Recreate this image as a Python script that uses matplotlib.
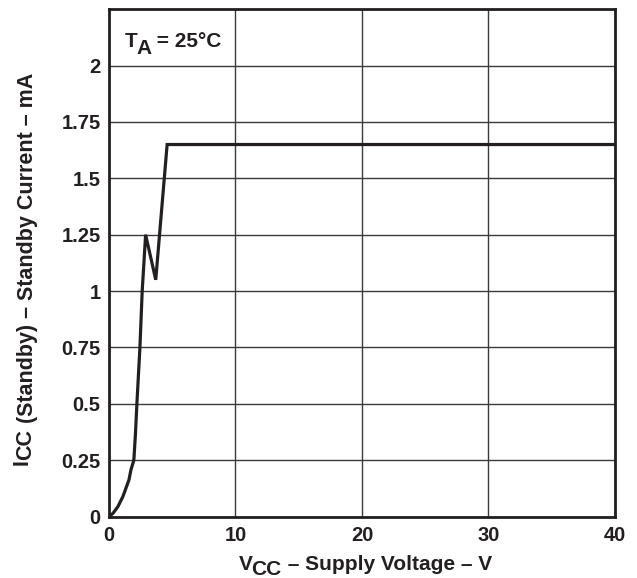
import matplotlib
matplotlib.use("Agg")
import matplotlib.pyplot as plt
from matplotlib.transforms import IdentityTransform

plt.rcParams['font.family'] = ['Liberation Sans', 'DejaVu Sans']

# Data
vcc = [0, 0.32, 0.71, 1.1, 1.58, 1.74, 1.97, 2.1, 2.21, 2.45, 2.63, 2.9, 3.7, 4.6, 40]
icc = [0, 0.014, 0.044, 0.088, 0.162, 0.207, 0.25, 0.37, 0.5, 0.75, 1.0, 1.25, 1.05, 1.65, 1.65]
xticks = [0, 10, 20, 30, 40]
yticks = [0, 0.25, 0.5, 0.75, 1, 1.25, 1.5, 1.75, 2]
ytick_labels = ['0', '0.25', '0.5', '0.75', '1', '1.25', '1.5', '1.75', '2']

INK = '#231f20'
TICK_FS = 14.5

fig = plt.figure(figsize=(6.37, 5.78), dpi=100)
ax = fig.add_axes([0.171, 0.1064, 0.7945, 0.8776])

ax.plot(vcc, icc, color=INK, lw=2.3, solid_joinstyle='miter', zorder=3)

ax.set_xlim(0, 40)
ax.set_ylim(0, 2.25)
ax.set_xticks(xticks)
ax.set_yticks(yticks)
ax.set_yticklabels(ytick_labels)
ax.set_yticks([2.25], minor=True)
ax.grid(True, which='both', color='#3a3a3a', lw=1.0)
ax.tick_params(which='both', length=0)
ax.tick_params(axis='y', pad=6, labelsize=TICK_FS)
ax.tick_params(axis='x', pad=7, labelsize=TICK_FS)
for lab in ax.get_xticklabels() + ax.get_yticklabels():
    lab.set_fontweight('bold')
    lab.set_color(INK)
for s in ax.spines.values():
    s.set_linewidth(2.0)
    s.set_color(INK)

renderer = fig.canvas.get_renderer()


def compose(parts, x, y, size, rotation=0, align='center'):
    """parts: list of (text, baseline shift in px (positive = down), kern px)."""
    items = []
    for s, drop, kern in parts:
        t = fig.text(0, 0, s, fontsize=size, fontweight='bold', color=INK,
                     ha='left', va='baseline', rotation=0,
                     transform=IdentityTransform())
        w = t.get_window_extent(renderer).width
        items.append((t, drop, kern, w))
    total = sum(w + k for _, _, k, w in items)
    pos = -total / 2 if align == 'center' else 0
    for t, drop, kern, w in items:
        pos += kern
        if rotation == 0:
            t.set_position((x + pos, y - drop))
        else:
            t.set_rotation(90)
            t.set_rotation_mode('anchor')
            t.set_position((x + drop, y + pos))
        pos += w


compose([('V', 0, 0), ('CC', 4.5, -1), (' – Supply Voltage – V', 0, 0)],
        365, 7.5, 15)
compose([('I', -5, 0), ('CC', -1, -1), (' (Standby) – Standby Current – mA', 0, 0)],
        32.5, 309.5, 15.5, rotation=90)
compose([('T', 0, 0), ('A', 7, -1.5), (' = 25°C', 0, 0)],
        125, 531, 15, align='left')

fig.savefig('out.png', dpi=100)
